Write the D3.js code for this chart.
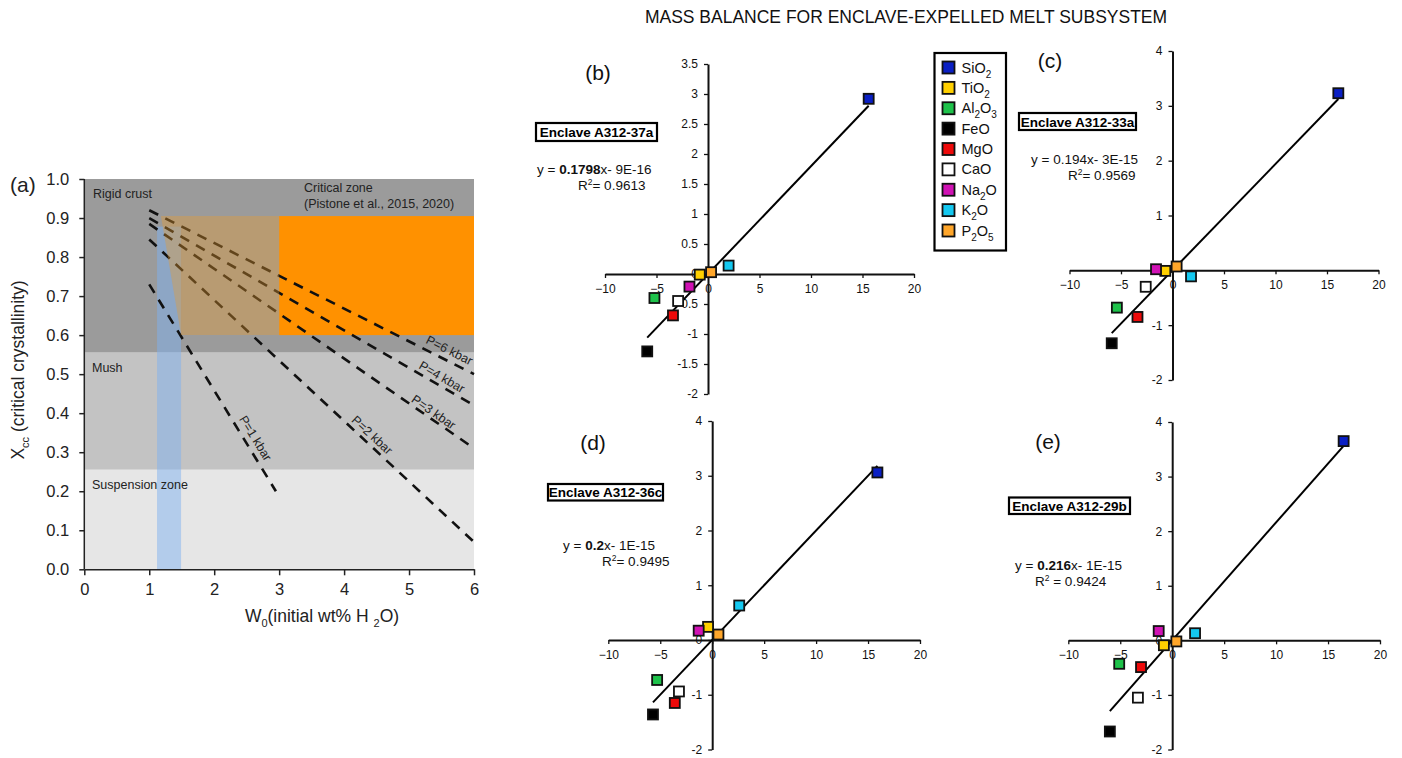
<!DOCTYPE html>
<html>
<head>
<meta charset="utf-8">
<script src="https://cdn.jsdelivr.net/npm/d3@7"></script>
<style>
  body { margin: 0; background: #fff; }
  svg { font-family: "Liberation Sans", Arial, sans-serif; }
</style>
</head>
<body>
<script>
  var width = 1402, height = 758;

  // ---------- panel (a) data ----------
  var wTicks = [0, 1, 2, 3, 4, 5, 6];
  var xccTicks = [0, 0.1, 0.2, 0.3, 0.4, 0.5, 0.6, 0.7, 0.8, 0.9, 1.0];
  var zoneNames = ["Rigid crust", "Mush", "Suspension zone"];
  var zoneTop = [1.0, 0.555, 0.255];
  var zoneBottom = [0.555, 0.255, 0];
  var criticalW = [3, 6], criticalX = [0.6, 0.905];
  var overlapW = [1.18, 3, 3, 1.49], overlapX = [0.905, 0.905, 0.6, 0.6];
  var bandW = [1.12, 1.49], bandX = [0, 0.878];
  var pLabels = ["P=1 kbar", "P=2 kbar", "P=3 kbar", "P=4 kbar", "P=6 kbar"];
  var pStartW = [1, 1, 1, 1, 1];
  var pStartX = [0.73, 0.845, 0.885, 0.90, 0.92];
  var pEndW = [2.95, 6, 6, 6, 6];
  var pEndX = [0.2, 0.07, 0.31, 0.42, 0.50];

  // ---------- mass balance data ----------
  var oxides = ["SiO2", "TiO2", "Al2O3", "FeO", "MgO", "CaO", "Na2O", "K2O", "P2O5"];
  var oxideParts = [["SiO", "2"], ["TiO", "2"], ["Al", "2", "O", "3"], ["FeO"], ["MgO"], ["CaO"],
                    ["Na", "2", "O"], ["K", "2", "O"], ["P", "2", "O", "5"]];
  var oxideColors = ["#0a1fc4", "#ffd000", "#1ec24a", "#000000", "#ee0a0a", "#ffffff", "#d012b4", "#14c8f0", "#ffa62a"];

  var xB = [15.6, -0.8, -5.2, -5.9, -3.4, -2.9, -1.8, 2.0, 0.3];
  var yB = [2.92, -0.01, -0.40, -1.29, -0.69, -0.45, -0.21, 0.14, 0.03];
  var xC = [16.1, -0.7, -5.4, -5.9, -3.4, -2.6, -1.6, 1.8, 0.4];
  var yC = [3.23, -0.01, -0.68, -1.33, -0.85, -0.30, 0.02, -0.11, 0.07];
  var xD = [15.9, -0.4, -5.3, -5.7, -3.6, -3.2, -1.3, 2.6, 0.6];
  var yD = [3.06, 0.24, -0.73, -1.36, -1.15, -0.94, 0.17, 0.63, 0.10];
  var xE = [16.5, -0.8, -5.1, -6.0, -3.0, -3.3, -1.3, 2.2, 0.4];
  var yE = [3.65, -0.09, -0.43, -1.67, -0.49, -1.05, 0.17, 0.13, -0.02];

  var slopes = [0.1798, 0.194, 0.2, 0.216];
  var intercepts = ["9E-16", "3E-15", "1E-15", "1E-15"];
  var r2 = ["0.9613", "0.9569", "0.9495", "0.9424"];
  var samples = ["Enclave A312-37a", "Enclave A312-33a", "Enclave A312-36c", "Enclave A312-29b"];
  var panelTags = ["(b)", "(c)", "(d)", "(e)"];
  var xTicksMB = [-10, -5, 0, 5, 10, 15, 20];
  var yTicksB = [-2, -1.5, -1, -0.5, 0, 0.5, 1, 1.5, 2, 2.5, 3, 3.5];
  var yTicksCDE = [-2, -1, 0, 1, 2, 3, 4];

  var svg = d3.select("body").append("svg")
    .attr("width", width).attr("height", height);

  // =============== panel (a) ===============
  var xa = d3.scaleLinear().domain([0, 6]).range([84.3, 474]);
  var ya = d3.scaleLinear().domain([0, 1]).range([569.3, 179]);
  var ga = svg.append("g");
  var zoneFill = ["#9b9b9b", "#c3c3c3", "#e6e6e6"];

  ga.selectAll("rect.zone").data(zoneNames).enter().append("rect")
    .attr("class", "zone")
    .attr("x", xa(0)).attr("width", xa(6) - xa(0))
    .attr("y", (d, i) => ya(zoneTop[i]))
    .attr("height", (d, i) => ya(zoneBottom[i]) - ya(zoneTop[i]))
    .attr("fill", (d, i) => zoneFill[i]);

  ga.append("rect")
    .attr("x", xa(bandW[0])).attr("width", xa(bandW[1]) - xa(bandW[0]))
    .attr("y", ya(bandX[1])).attr("height", ya(bandX[0]) - ya(bandX[1]))
    .attr("fill", "#7fb2f0").attr("opacity", 0.5);

  ga.append("rect")
    .attr("x", xa(criticalW[0])).attr("width", xa(criticalW[1]) - xa(criticalW[0]))
    .attr("y", ya(criticalX[1])).attr("height", ya(criticalX[0]) - ya(criticalX[1]))
    .attr("fill", "#ff9100");

  // zone labels
  var zl = ga.append("g").attr("font-size", 12.5).attr("fill", "#222");
  zl.append("text").attr("x", 93).attr("y", 198).text(zoneNames[0]);
  zl.append("text").attr("x", 92).attr("y", 372).text(zoneNames[1]);
  zl.append("text").attr("x", 92).attr("y", 489).text(zoneNames[2]);
  zl.append("text").attr("x", 304).attr("y", 192).text("Critical zone");
  zl.append("text").attr("x", 304).attr("y", 208).text("(Pistone et al., 2015, 2020)");

  // pressure lines
  ga.selectAll("line.p").data(pLabels).enter().append("line")
    .attr("class", "p")
    .attr("x1", (d, i) => xa(pStartW[i])).attr("y1", (d, i) => ya(pStartX[i]))
    .attr("x2", (d, i) => xa(pEndW[i])).attr("y2", (d, i) => ya(pEndX[i]))
    .attr("stroke", "#111").attr("stroke-width", 2.6)
    .attr("stroke-dasharray", "10,8");

  // translucent part of the critical zone lies over the lines
  ga.append("polygon")
    .attr("points", overlapW.map((w, i) => xa(w) + "," + ya(overlapX[i])).join(" "))
    .attr("fill", "#e89a30").attr("opacity", 0.38);

  var labelAt = [2.5, 4.34, 5.32, 5.44, 5.55];
  var labelOff = [10, 8.5, 6.6, 8.3, 10];
  pLabels.forEach(function(lbl, i) {
    var x1 = xa(pStartW[i]), y1 = ya(pStartX[i]), x2 = xa(pEndW[i]), y2 = ya(pEndX[i]);
    var ang = Math.atan2(y2 - y1, x2 - x1) * 180 / Math.PI;
    var t = (xa(labelAt[i]) - x1) / (x2 - x1);
    var px = x1 + t * (x2 - x1), py = y1 + t * (y2 - y1);
    ga.append("text")
      .attr("transform", "translate(" + px + "," + py + ") rotate(" + ang + ")")
      .attr("y", -labelOff[i])
      .attr("text-anchor", "middle").attr("dominant-baseline", "central")
      .attr("font-size", 12.5).attr("fill", "#222")
      .text(lbl);
  });

  // axes (a)
  var axA = ga.append("g").attr("transform", "translate(0," + ya(0) + ")")
    .call(d3.axisBottom(xa).tickValues(wTicks).tickFormat(d3.format("d")).tickSize(6).tickSizeOuter(0).tickPadding(8));
  var ayA = ga.append("g").attr("transform", "translate(" + xa(0) + ",0)")
    .call(d3.axisLeft(ya).tickValues(xccTicks).tickFormat(d3.format(".1f")).tickSize(5).tickSizeOuter(0).tickPadding(10));
  [axA, ayA].forEach(function(a) {
    a.selectAll("text").attr("font-size", 16.5).attr("fill", "#222").attr("font-family", "Liberation Sans, Arial, sans-serif");
    a.selectAll("line").attr("stroke", "#222").attr("stroke-width", 1.5);
    a.select(".domain").attr("stroke", "#222").attr("stroke-width", 1.5);
  });
  ayA.select(".domain").attr("d", "M0," + ya(1) + "V" + ya(0));

  var xt = ga.append("text").attr("x", 322).attr("y", 622).attr("text-anchor", "middle")
    .attr("font-size", 17.5).attr("fill", "#222");
  xt.append("tspan").text("W");
  xt.append("tspan").attr("font-size", 11).attr("dy", 5).text("0");
  xt.append("tspan").attr("dy", -5).text("(initial wt% H ");
  xt.append("tspan").attr("font-size", 11).attr("dy", 5).text("2");
  xt.append("tspan").attr("dy", -5).text("O)");

  var yt = ga.append("text").attr("transform", "translate(24,370) rotate(-90)")
    .attr("text-anchor", "middle").attr("font-size", 17.5).attr("fill", "#222");
  yt.append("tspan").text("X");
  yt.append("tspan").attr("font-size", 11).attr("dy", 5).text("cc");
  yt.append("tspan").attr("dy", -5).text(" (critical crystallinity)");

  ga.append("text").attr("x", 10).attr("y", 192).attr("font-size", 21).attr("fill", "#222").text("(a)");

  // =============== title ===============
  svg.append("text").attr("x", 906).attr("y", 23).attr("text-anchor", "middle")
    .attr("font-size", 17.5).attr("fill", "#111")
    .text("MASS BALANCE FOR ENCLAVE-EXPELLED MELT SUBSYSTEM");

  // =============== scatter panels ===============
  var panels = [
    { xs: xB, ys: yB, xr: [605, 914], yd: [-2, 3.5], yr: [394, 64], yt: yTicksB,
      tag: [598, 80], box: [536, 123, 121, 18], eq: [537, 174, 578, 190], boldSlope: true },
    { xs: xC, ys: yC, xr: [1069.5, 1378.5], yd: [-2, 4], yr: [380, 51], yt: yTicksCDE,
      tag: [1050, 68], box: [1019, 113, 117, 17], eq: [1031, 164, 1068, 180], boldSlope: false },
    { xs: xD, ys: yD, xr: [608.3, 920], yd: [-2, 4], yr: [749.5, 421], yt: yTicksCDE,
      tag: [593, 450], box: [548, 484, 115, 16.5], eq: [563, 550, 602, 566], boldSlope: true },
    { xs: xE, ys: yE, xr: [1068.3, 1380], yd: [-2, 4], yr: [749.5, 422], yt: yTicksCDE,
      tag: [1048, 449], box: [1009, 497.5, 121, 16.5], eq: [1015, 570, 1035, 586], boldSlope: true, r2space: true }
  ];

  panels.forEach(function(p, k) {
    var x = d3.scaleLinear().domain([-10, 20]).range(p.xr);
    var y = d3.scaleLinear().domain(p.yd).range(p.yr);
    var g = svg.append("g");

    var ax = g.append("g").attr("transform", "translate(0," + y(0) + ")")
      .call(d3.axisBottom(x).tickValues(xTicksMB).tickSize(4).tickSizeOuter(0).tickPadding(6));
    var ay = g.append("g").attr("transform", "translate(" + x(0) + ",0)")
      .call(d3.axisLeft(y).tickValues(p.yt).tickFormat(d => String(d)).tickSize(4).tickSizeOuter(0).tickPadding(6));
    [ax, ay].forEach(function(a) {
      a.selectAll("text").attr("font-size", 12).attr("fill", "#111").attr("font-family", "Liberation Sans, Arial, sans-serif");
      a.selectAll("line").attr("stroke", "#111").attr("stroke-width", 1.3);
      a.select(".domain").attr("stroke", "#111").attr("stroke-width", 2);
    });

    // trend line through origin
    var xmin = d3.min(p.xs), xmax = d3.max(p.xs);
    g.append("line")
      .attr("x1", x(xmin)).attr("y1", y(slopes[k] * xmin))
      .attr("x2", x(xmax)).attr("y2", y(slopes[k] * xmax))
      .attr("stroke", "#000").attr("stroke-width", 2);

    g.selectAll("rect.pt").data(oxides).enter().append("rect")
      .attr("class", "pt")
      .attr("x", (d, i) => x(p.xs[i]) - 5).attr("y", (d, i) => y(p.ys[i]) - 5)
      .attr("width", 10).attr("height", 10)
      .attr("fill", (d, i) => oxideColors[i])
      .attr("stroke", "#111").attr("stroke-width", 1.8);

    g.append("text").attr("x", p.tag[0]).attr("y", p.tag[1]).attr("text-anchor", "middle")
      .attr("font-size", 21).attr("fill", "#111").text(panelTags[k]);

    g.append("rect").attr("x", p.box[0]).attr("y", p.box[1])
      .attr("width", p.box[2]).attr("height", p.box[3])
      .attr("fill", "#fff").attr("stroke", "#000").attr("stroke-width", 2.2);
    g.append("text").attr("x", p.box[0] + p.box[2] / 2).attr("y", p.box[1] + p.box[3] / 2 + 0.5)
      .attr("text-anchor", "middle").attr("dominant-baseline", "central")
      .attr("font-size", 13.5).attr("font-weight", "bold").attr("fill", "#000")
      .text(samples[k]);

    var e1 = g.append("text").attr("x", p.eq[0]).attr("y", p.eq[1]).attr("font-size", 13.5).attr("fill", "#111");
    e1.append("tspan").text("y = ");
    e1.append("tspan").attr("font-weight", p.boldSlope ? "bold" : "normal").text(String(slopes[k]));
    e1.append("tspan").text("x- " + intercepts[k]);
    var e2 = g.append("text").attr("x", p.eq[2]).attr("y", p.eq[3]).attr("font-size", 13.5).attr("fill", "#111");
    e2.append("tspan").text("R");
    e2.append("tspan").attr("font-size", 8.5).attr("dy", -5).text("2");
    e2.append("tspan").attr("dy", 5).text((p.r2space ? " = " : "= ") + r2[k]);
  });

  // =============== legend ===============
  var lg = svg.append("g");
  lg.append("rect").attr("x", 934.5).attr("y", 53).attr("width", 71.5).attr("height", 197.5)
    .attr("fill", "#fff").attr("stroke", "#000").attr("stroke-width", 2.2);
  var ly = d3.scaleLinear().domain([0, oxides.length - 1]).range([67.5, 230.5]);
  oxides.forEach(function(o, i) {
    lg.append("rect").attr("x", 942.5).attr("y", ly(i) - 6).attr("width", 12).attr("height", 12)
      .attr("fill", oxideColors[i]).attr("stroke", "#111").attr("stroke-width", 1.8);
    var t = lg.append("text").attr("x", 961.5).attr("y", ly(i) + 5).attr("font-size", 14.5).attr("fill", "#111");
    oxideParts[i].forEach(function(part, j) {
      if (j % 2 === 0) t.append("tspan").attr("font-size", 14.5).attr("dy", j === 0 ? 0 : -5).text(part);
      else t.append("tspan").attr("font-size", 10).attr("dy", 5).text(part);
    });
  });
</script>
</body>
</html>
